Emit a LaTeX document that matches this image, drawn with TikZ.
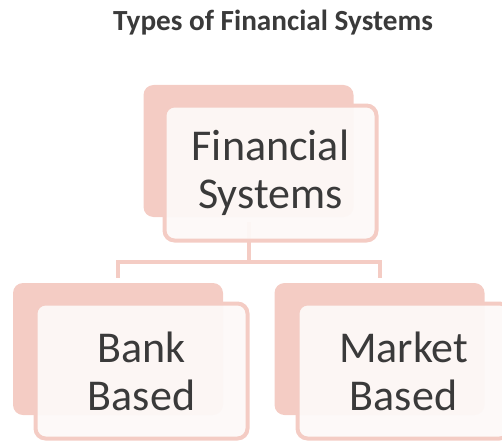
\documentclass[tikz,border=0pt]{standalone}
\usepackage{fontspec}
\setmainfont{Carlito}

\definecolor{blush}{HTML}{F4CCC4}
\definecolor{paper}{HTML}{FDF9F8}
\definecolor{ink}{HTML}{3A3A3A}

\begin{document}
\begin{tikzpicture}[x=1pt,y=-1pt,
    backbox/.style={fill=blush,rounded corners=10pt,minimum width=210pt,minimum height=132pt},
    frontbox/.style={draw=blush,line width=4pt,fill=paper,fill opacity=0.94,text opacity=1,
        rounded corners=10pt,minimum width=212pt,minimum height=135pt,
        align=center,text=ink,font=\fontsize{44}{48}\selectfont},
    link/.style={draw=blush,line width=4pt,shorten <=5pt,shorten >=5pt}]
    \useasboundingbox (0,0) rectangle (502,441);
    \node[anchor=base,text=ink,font=\bfseries\fontsize{29.2}{34}\selectfont] (title) at (273,30.5) {Types of Financial Systems};
    \node[backbox] (fsback) at (248.5,151) {};
    \node[backbox] (bankback) at (118,349) {};
    \node[backbox] (marketback) at (379.5,349) {};
    \draw[link] (fsback.south) -- ++(0,45) -| (bankback.north);
    \draw[link] (fsback.south) -- ++(0,45) -| (marketback.north);
    \node[frontbox] (fs) at (270.5,173) {Financial\\Systems};
    \node[frontbox] (bank) at (141.5,371) {Bank\\Based};
    \node[frontbox] (market) at (403.5,371) {Market\\Based};
\end{tikzpicture}
\end{document}
